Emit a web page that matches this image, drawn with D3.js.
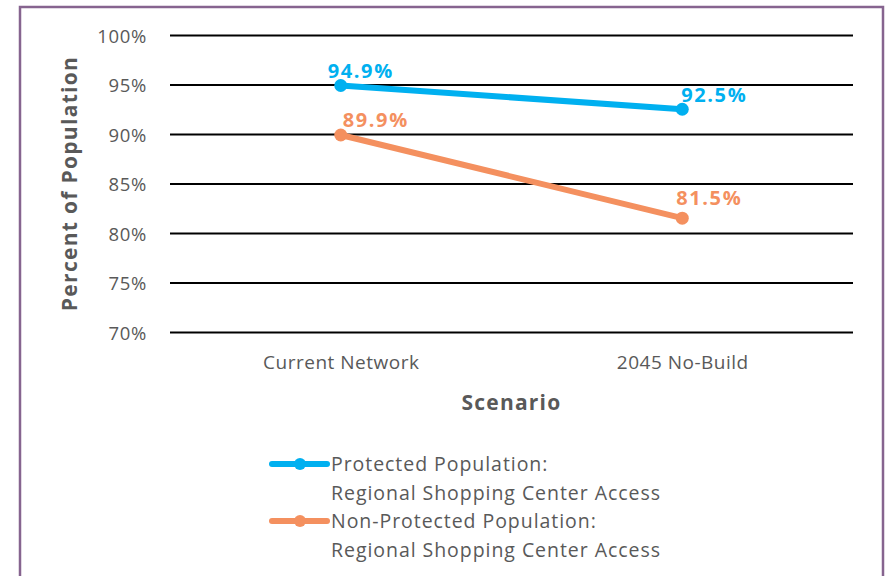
<!DOCTYPE html>
<html>
<head>
<meta charset="utf-8">
<script src="https://cdn.jsdelivr.net/npm/d3@7"></script>
<style>
	body { margin: 0; background: #fff; }
	svg { display: block; }
	svg text { font-family: "Open Sans", sans-serif; }
</style>
</head>
<body>
<div id="chart"></div>
<script>
var scenarios = [ "Current Network", "2045 No-Build" ];
var protectedValues = [ 94.9, 92.5 ];
var nonProtectedValues = [ 89.9, 81.5 ];
var yTicks = [ 70, 75, 80, 85, 90, 95, 100 ];
var seriesNames = [ "Protected Population:", "Non-Protected Population:" ];
var seriesSubtitle = "Regional Shopping Center Access";

var width = 886, height = 576;
var margin = { top: 35, right: 33, bottom: 244, left: 170 };
var textColor = "#595959";
var colors = [ "#00b0f0", "#f4905f" ];

var svg = d3.select( "#chart" ).append( "svg" )
	.attr( "width", width )
	.attr( "height", height );

// chart border (bottom edge runs off the picture)
svg.append( "path" )
	.attr( "d", "M20,580V7H883V580" )
	.attr( "fill", "none" )
	.attr( "stroke", "#86648f" )
	.attr( "stroke-width", 2.5 );

var x = d3.scalePoint()
	.domain( scenarios )
	.range( [ margin.left, width - margin.right ] )
	.padding( 0.5 );

var y = d3.scaleLinear()
	.domain( [ 70, 100 ] )
	.range( [ 332, margin.top ] );

// gridlines
var yAxis = svg.append( "g" )
	.attr( "transform", "translate(" + margin.left + ",0)" )
	.call( d3.axisLeft( y ).tickValues( yTicks ).tickSize( -( width - margin.right - margin.left ) ).tickPadding( 23 ).tickFormat( function( d ) { return d + "%"; } ) );
yAxis.select( ".domain" ).remove();
yAxis.selectAll( ".tick line" ).attr( "stroke", "#000" ).attr( "stroke-width", 2 );
yAxis.selectAll( ".tick text" )
	.attr( "fill", textColor )
	.attr( "dy", "0.4em" )
	.style( "font-size", "18.5px" )
	.style( "letter-spacing", "0.7px" );

var xAxis = svg.append( "g" )
	.attr( "transform", "translate(0," + y( 70 ) + ")" )
	.call( d3.axisBottom( x ).tickSize( 0 ).tickPadding( 24 ) );
xAxis.select( ".domain" ).remove();
xAxis.selectAll( ".tick text" )
	.attr( "fill", textColor )
	.style( "font-size", "19px" )
	.style( "letter-spacing", "0.5px" );

// axis titles
svg.append( "text" )
	.attr( "transform", "translate(77," + y( 85 ) + ") rotate(-90)" )
	.attr( "text-anchor", "middle" )
	.attr( "fill", textColor )
	.style( "font-size", "21px" )
	.style( "font-weight", "bold" )
	.style( "letter-spacing", "1.3px" )
	.text( "Percent of Population" );

svg.append( "text" )
	.attr( "x", ( margin.left + width - margin.right ) / 2 )
	.attr( "y", 410 )
	.attr( "text-anchor", "middle" )
	.attr( "fill", textColor )
	.style( "font-size", "21px" )
	.style( "font-weight", "bold" )
	.style( "letter-spacing", "1.2px" )
	.text( "Scenario" );

// series
var series = [ protectedValues, nonProtectedValues ];
var line = d3.line()
	.x( function( d, i ) { return x( scenarios[ i ] ); } )
	.y( function( d ) { return y( d ); } );

// label offsets: [dx, dy] per point
var labelOffsets = [
	[ [ 20, -7 ], [ 32, -7 ] ],
	[ [ 35, -8 ], [ 27, -13 ] ]
];

series.forEach( function( values, s )
{
	svg.append( "path" )
		.datum( values )
		.attr( "d", line )
		.attr( "fill", "none" )
		.attr( "stroke", colors[ s ] )
		.attr( "stroke-width", 6 );

	svg.append( "g" ).selectAll( "circle" )
		.data( values )
		.enter()
		.append( "circle" )
		.attr( "cx", function( d, i ) { return x( scenarios[ i ] ); } )
		.attr( "cy", function( d ) { return y( d ); } )
		.attr( "r", 6.5 )
		.attr( "fill", colors[ s ] );

	svg.append( "g" ).selectAll( "text" )
		.data( values )
		.enter()
		.append( "text" )
		.attr( "x", function( d, i ) { return x( scenarios[ i ] ) + labelOffsets[ s ][ i ][ 0 ]; } )
		.attr( "y", function( d, i ) { return y( d ) + labelOffsets[ s ][ i ][ 1 ]; } )
		.attr( "text-anchor", "middle" )
		.attr( "fill", colors[ s ] )
		.style( "font-size", "20px" )
		.style( "font-weight", "bold" )
		.style( "letter-spacing", "1.6px" )
		.text( function( d ) { return d.toFixed( 1 ) + "%"; } );
} );

// legend
var legend = svg.append( "g" ).attr( "transform", "translate(272,464)" );
seriesNames.forEach( function( name, s )
{
	var g = legend.append( "g" ).attr( "transform", "translate(0," + s * 57 + ")" );
	g.append( "line" )
		.attr( "x1", 0 ).attr( "x2", 55 )
		.attr( "stroke", colors[ s ] )
		.attr( "stroke-width", 6 )
		.attr( "stroke-linecap", "round" );
	g.append( "circle" )
		.attr( "cx", 28 )
		.attr( "r", 6 )
		.attr( "fill", colors[ s ] );
	g.append( "text" )
		.attr( "x", 59 )
		.attr( "y", 7 )
		.attr( "fill", textColor )
		.style( "font-size", "19.5px" )
		.style( "letter-spacing", "0.95px" )
		.text( name );
	g.append( "text" )
		.attr( "x", 59 )
		.attr( "y", 36 )
		.attr( "fill", textColor )
		.style( "font-size", "19.5px" )
		.style( "letter-spacing", "0.95px" )
		.text( seriesSubtitle );
} );
</script>
</body>
</html>
